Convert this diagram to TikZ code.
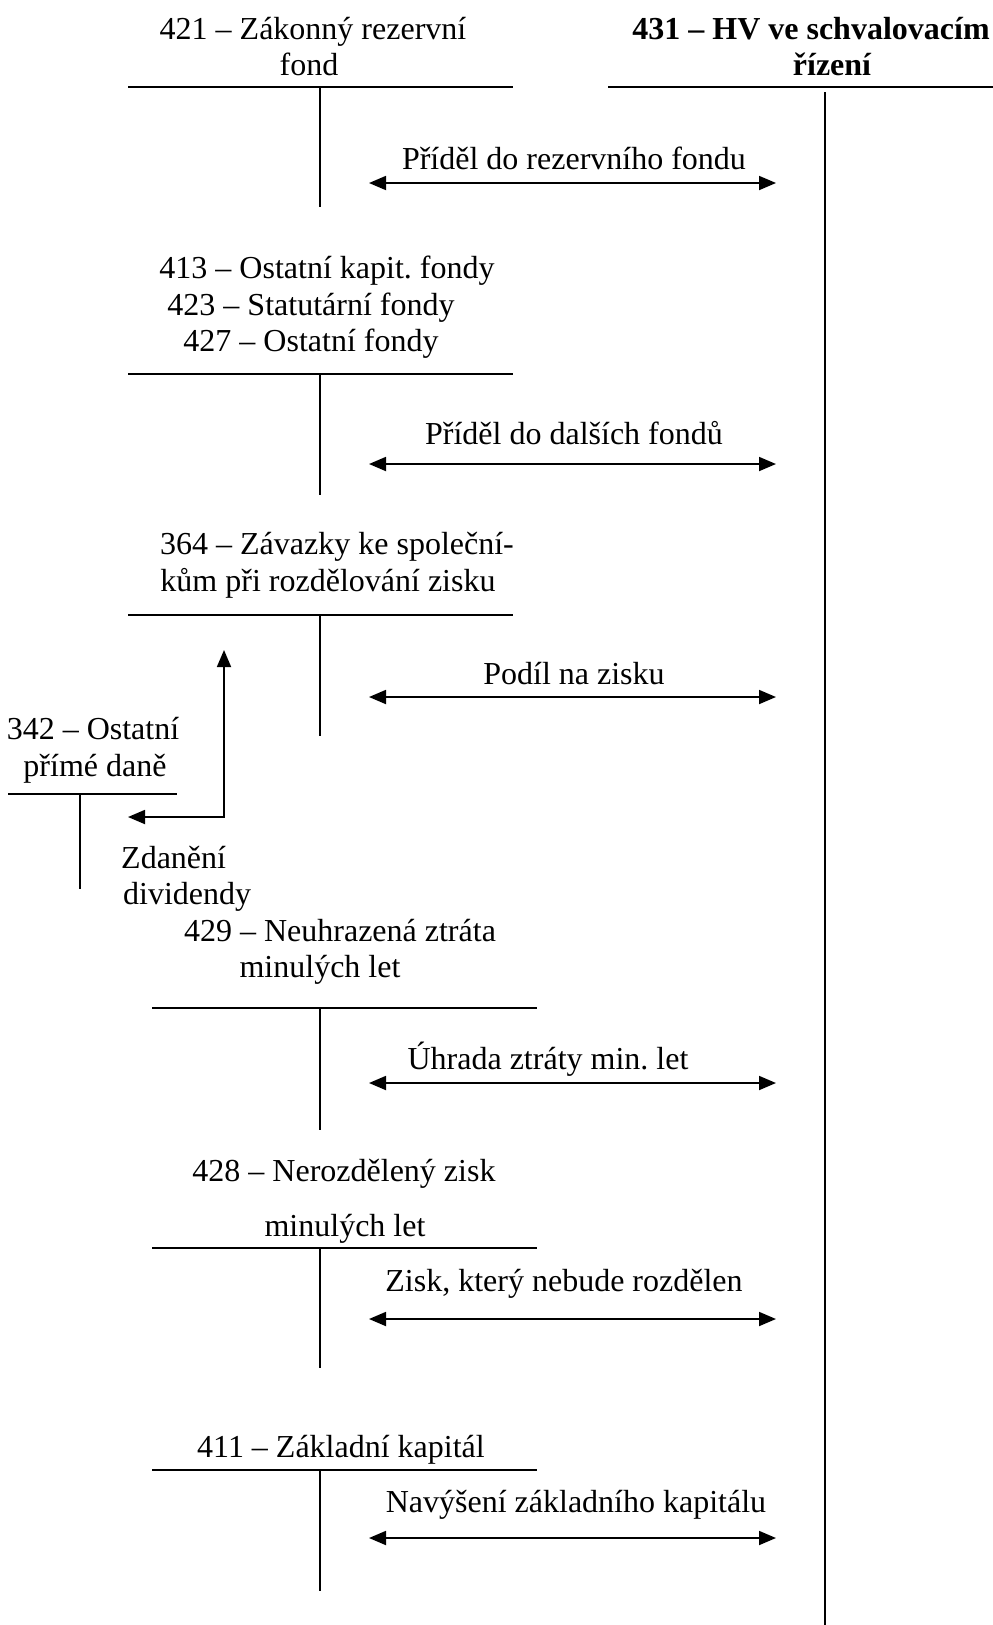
\documentclass[tikz,border=0pt]{standalone}
\usepackage{fontspec}
\setmainfont{Liberation Serif}
\usetikzlibrary{arrows.meta}
\frenchspacing
\begin{document}
\begin{tikzpicture}[x=1pt,y=-1pt,
  lbl/.style={inner sep=0pt,yshift=-3pt,font=\fontsize{32}{36}\selectfont,text height=22pt,text depth=7pt},
  ttl/.style={lbl},
  bttl/.style={lbl,font=\fontsize{32}{36}\selectfont\bfseries},
  tline/.style={line width=1.8pt},
  flow/.style={line width=1.8pt,{Triangle[length=17pt,width=14pt]}-{Triangle[length=17pt,width=14pt]}},
  oneway/.style={line width=1.8pt,-{Triangle[length=17pt,width=14pt]}}]
\useasboundingbox (0,0) rectangle (993,1625);

% right account 431
\node[bttl] (t431a) at (811,29) {431 – HV ve schvalovacím};
\node[bttl] (t431b) at (832,65) {řízení};
\coordinate (r431L) at (608,87);
\coordinate (r431R) at (993,87);
\coordinate (r431T) at (825,92);
\coordinate (r431B) at (825,1625);
\draw[tline] (r431L) -- (r431R);
\draw[tline] (r431T) -- (r431B);

% 421
\node[ttl] (t421a) at (313,29) {421 – Zákonný rezervní};
\node[ttl] (t421b) at (309,65) {fond};
\coordinate (a421L) at (128,87);
\coordinate (a421R) at (513,87);
\coordinate (a421T) at (320,87);
\coordinate (a421B) at (320,207);
\draw[tline] (a421L) -- (a421R);
\draw[tline] (a421T) -- (a421B);
\coordinate (f1L) at (369,183);
\coordinate (f1R) at (776,183);
\draw[flow] (f1L) -- (f1R);
\node[lbl] (l1) at (574,159) {Příděl do rezervního fondu};

% 413/423/427
\node[ttl] (t413) at (327,268) {413 – Ostatní kapit. fondy};
\node[ttl] (t423) at (311,305) {423 – Statutární fondy};
\node[ttl] (t427) at (311,341) {427 – Ostatní fondy};
\coordinate (a413L) at (128,374);
\coordinate (a413R) at (513,374);
\coordinate (a413T) at (320,374);
\coordinate (a413B) at (320,495);
\draw[tline] (a413L) -- (a413R);
\draw[tline] (a413T) -- (a413B);
\coordinate (f2L) at (369,464);
\coordinate (f2R) at (776,464);
\draw[flow] (f2L) -- (f2R);
\node[lbl] (l2) at (574,434) {Příděl do dalších fondů};

% 364
\node[ttl] (t364a) at (337,544) {364 – Závazky ke společní-};
\node[ttl] (t364b) at (328,581) {kům při rozdělování zisku};
\coordinate (a364L) at (128,615);
\coordinate (a364R) at (513,615);
\coordinate (a364T) at (320,615);
\coordinate (a364B) at (320,736);
\draw[tline] (a364L) -- (a364R);
\draw[tline] (a364T) -- (a364B);
\coordinate (f3L) at (369,697);
\coordinate (f3R) at (776,697);
\draw[flow] (f3L) -- (f3R);
\node[lbl] (l3) at (574,674) {Podíl na zisku};

% 342
\node[ttl] (t342a) at (93,729) {342 – Ostatní};
\node[ttl] (t342b) at (95,766) {přímé daně};
\coordinate (a342L) at (8,794);
\coordinate (a342R) at (177,794);
\coordinate (a342T) at (80,794);
\coordinate (a342B) at (80,889);
\draw[tline] (a342L) -- (a342R);
\draw[tline] (a342T) -- (a342B);
\coordinate (taxC) at (224,817);
\coordinate (taxL) at (128,817);
\coordinate (taxU) at (224,650);
\draw[flow] (taxL) -- (taxC) -- (taxU);
\node[lbl,anchor=west] (ltax1) at (121,858) {Zdanění};
\node[lbl,anchor=west] (ltax2) at (123,894) {dividendy};

% 429
\node[ttl] (t429a) at (340,931) {429 – Neuhrazená ztráta};
\node[ttl] (t429b) at (320,967) {minulých let};
\coordinate (a429L) at (152,1008);
\coordinate (a429R) at (537,1008);
\coordinate (a429T) at (320,1008);
\coordinate (a429B) at (320,1130);
\draw[tline] (a429L) -- (a429R);
\draw[tline] (a429T) -- (a429B);
\coordinate (f4L) at (369,1083);
\coordinate (f4R) at (776,1083);
\draw[flow] (f4L) -- (f4R);
\node[lbl] (l4) at (548,1059) {Úhrada ztráty min. let};

% 428
\node[ttl] (t428a) at (344,1171) {428 – Nerozdělený zisk};
\node[ttl] (t428b) at (345,1226) {minulých let};
\coordinate (a428L) at (152,1248);
\coordinate (a428R) at (537,1248);
\coordinate (a428T) at (320,1248);
\coordinate (a428B) at (320,1368);
\draw[tline] (a428L) -- (a428R);
\draw[tline] (a428T) -- (a428B);
\coordinate (f5L) at (369,1319);
\coordinate (f5R) at (776,1319);
\draw[flow] (f5L) -- (f5R);
\node[lbl] (l5) at (564,1281) {Zisk, který nebude rozdělen};

% 411
\node[ttl] (t411) at (341,1447) {411 – Základní kapitál};
\coordinate (a411L) at (152,1470);
\coordinate (a411R) at (537,1470);
\coordinate (a411T) at (320,1470);
\coordinate (a411B) at (320,1591);
\draw[tline] (a411L) -- (a411R);
\draw[tline] (a411T) -- (a411B);
\coordinate (f6L) at (369,1538);
\coordinate (f6R) at (776,1538);
\draw[flow] (f6L) -- (f6R);
\node[lbl] (l6) at (576,1502) {Navýšení základního kapitálu};
\end{tikzpicture}
\end{document}
